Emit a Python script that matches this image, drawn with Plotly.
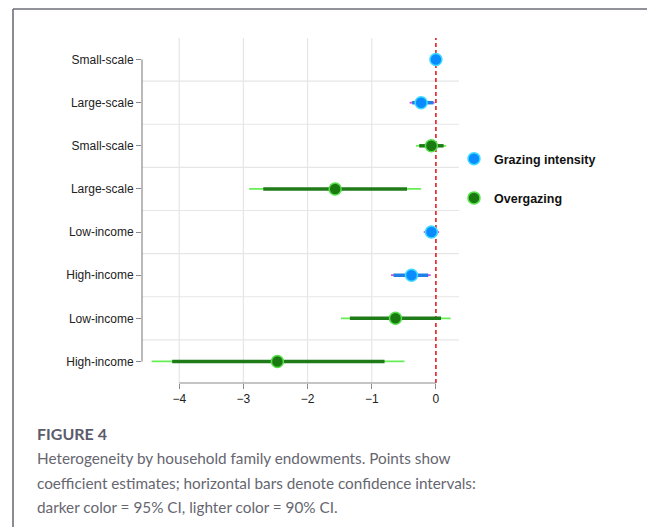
import plotly.graph_objects as go

# ---------------- data ----------------
row_labels = ["Small-scale", "Large-scale", "Small-scale", "Large-scale",
              "Low-income", "High-income", "Low-income", "High-income"]

gi_rows = [0, 1, 4, 5]
gi_est = [0.00, -0.23, -0.07, -0.38]
gi_lo95 = [-0.02, -0.37, -0.16, -0.66]
gi_hi95 = [0.02, -0.04, 0.03, -0.12]
gi_lo90 = [-0.03, -0.41, -0.19, -0.70]
gi_hi90 = [0.03, -0.02, 0.05, -0.08]

og_rows = [2, 3, 6, 7]
og_est = [-0.07, -1.57, -0.63, -2.47]
og_lo95 = [-0.26, -2.69, -1.34, -4.11]
og_hi95 = [0.12, -0.45, 0.08, -0.80]
og_lo90 = [-0.31, -2.91, -1.48, -4.43]
og_hi90 = [0.16, -0.23, 0.23, -0.49]

x_ticks = [-4, -3, -2, -1, 0]
series_names = ["Grazing intensity", "Overgazing"]

caption_title = "FIGURE 4"
caption_lines = [
    "Heterogeneity by household family endowments. Points show",
    "coefficient estimates; horizontal bars denote confidence intervals:",
    "darker color = 95% CI, lighter color = 90% CI.",
]

# ---------------- layout geometry (px, page coords) ----------------
OFF = 8  # page body margin
W, H = 655 - OFF, 527 - OFF
PLOT_L, PLOT_R, PLOT_T, PLOT_B = 142, 459, 38, 383
L = PLOT_L - OFF
T = PLOT_T - OFF
R = W - (PLOT_R - OFF)
B = H - (PLOT_B - OFF)
PH = H - T - B
PW = W - L - R


def py(page_y):
    return (PLOT_B - page_y) / PH


def pxx(page_x):
    return (page_x - PLOT_L) / PW


def segs(rows, lo, hi):
    xs, ys = [], []
    for r, a, b in zip(rows, lo, hi):
        xs += [a, b, None]
        ys += [r, r, None]
    return xs, ys


fig = go.Figure()

styles = [
    (gi_rows, gi_est, gi_lo95, gi_hi95, gi_lo90, gi_hi90,
     "#1f80e6", "#d651e6", "#0a8cff", "#3fdcff", series_names[0]),
    (og_rows, og_est, og_lo95, og_hi95, og_lo90, og_hi90,
     "#1f7a18", "#66ee55", "#1a7a10", "#55e04a", series_names[1]),
]

for i, (rows, est, lo95, hi95, lo90, hi90, dark, light, fill, edge, name) in enumerate(styles):
    xs, ys = segs(rows, lo90, hi90)
    fig.add_trace(go.Scatter(x=xs, y=ys, mode="lines",
                             line=dict(color=light, width=1.8),
                             showlegend=False, hoverinfo="skip"))
    xs, ys = segs(rows, lo95, hi95)
    fig.add_trace(go.Scatter(x=xs, y=ys, mode="lines",
                             line=dict(color=dark, width=3.5),
                             showlegend=False, hoverinfo="skip"))
    fig.add_trace(go.Scatter(x=est, y=rows, mode="markers", name=name,
                             legendgroup=name,
                             marker=dict(size=12, color=fill,
                                         line=dict(color=edge, width=1.5))))

shapes = []
for k in range(len(row_labels) - 1):
    shapes.append(dict(type="line", xref="paper", yref="y", x0=0, x1=1,
                       y0=k + 0.5, y1=k + 0.5, layer="below",
                       line=dict(color="#e6e6e6", width=1.2)))
for t in x_ticks[:-1]:
    shapes.append(dict(type="line", xref="x", yref="paper", x0=t, x1=t,
                       y0=0, y1=1, layer="below",
                       line=dict(color="#e6e6e6", width=1.2)))
shapes.append(dict(type="line", xref="x", yref="paper", x0=0, x1=0, y0=0, y1=1,
                   layer="below", line=dict(color="#e02020", width=1.6, dash="4px,3px")))
shapes.append(dict(type="line", xref="paper", yref="y", x0=0, x1=0,
                   y0=0, y1=len(row_labels) - 1, line=dict(color="#8a8a8a", width=1.2)))
shapes.append(dict(type="line", xref="x", yref="paper", x0=x_ticks[0], x1=x_ticks[-1],
                   y0=0, y1=0, line=dict(color="#8a8a8a", width=1.2)))
# card border
shapes.append(dict(type="line", xref="paper", yref="paper",
                   x0=pxx(13), x1=pxx(660), y0=py(9), y1=py(9),
                   line=dict(color="#6e6e7a", width=1.6)))
shapes.append(dict(type="line", xref="paper", yref="paper",
                   x0=pxx(13), x1=pxx(13), y0=py(9), y1=py(530),
                   line=dict(color="#6e6e7a", width=1.6)))

annotations = [
    dict(text=caption_title, xref="paper", yref="paper", x=pxx(35), y=py(433),
         xanchor="left", yanchor="middle", showarrow=False,
         font=dict(family="Lato", size=16, color="#5b5b6b", weight=700)),
]
for j, line in enumerate(caption_lines):
    annotations.append(dict(text=line, xref="paper", yref="paper",
                            x=pxx(35), y=py(458 + 24.5 * j),
                            xanchor="left", yanchor="middle", showarrow=False,
                            font=dict(family="Lato", size=15.3, color="#666670")))

fig.update_layout(
    width=W, height=H,
    margin=dict(l=L, r=R, t=T, b=B, pad=0),
    paper_bgcolor="white", plot_bgcolor="white",
    font=dict(family="Liberation Sans, Arial, sans-serif", size=12, color="#222"),
    xaxis=dict(range=[-4.58, 0.36], tickvals=x_ticks, showgrid=False,
               zeroline=False, showline=False, ticks="outside", ticklen=5,
               tickcolor="#8a8a8a", tickwidth=1.2),
    yaxis=dict(range=[len(row_labels) - 0.5, -0.5], tickvals=list(range(len(row_labels))),
               ticktext=row_labels, showgrid=False, zeroline=False, showline=False,
               ticks="outside", ticklen=5, tickcolor="#8a8a8a", tickwidth=1.2),
    legend=dict(x=pxx(454), y=py(144), xanchor="left", yanchor="top",
                font=dict(family="Liberation Sans, Arial", size=12.5, color="#111", weight=700),
                tracegroupgap=20, bgcolor="rgba(0,0,0,0)"),
    shapes=shapes,
    annotations=annotations,
)

fig.write_html("out.html")
